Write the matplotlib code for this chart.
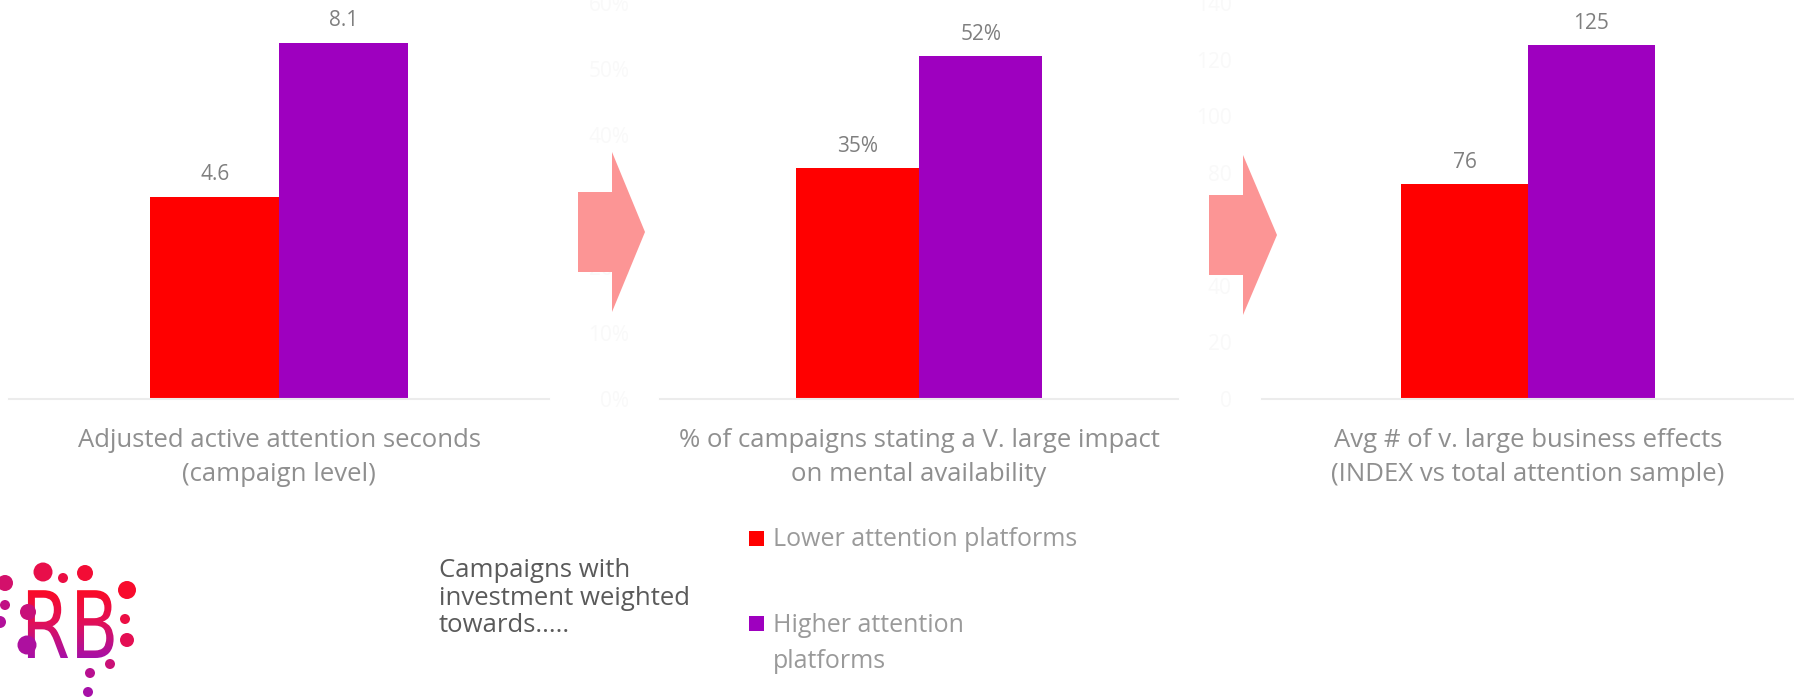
import numpy as np
import matplotlib
matplotlib.use("Agg")
import matplotlib.pyplot as plt
from matplotlib.patches import Polygon, Rectangle, Circle, PathPatch
from matplotlib.textpath import TextPath
from matplotlib.font_manager import FontProperties
from matplotlib.transforms import Affine2D
from matplotlib.colors import LinearSegmentedColormap

plt.rcParams["font.family"] = ["Open Sans", "DejaVu Sans"]

W, H = 1794, 698
RED, PURPLE = "#ff0000", "#9e00bf"

# ---- data ----
series = ["Lower attention platforms", "Higher attention\nplatforms"]
titles = ["Adjusted active attention seconds\n(campaign level)",
          "% of campaigns stating a V. large impact\non mental availability",
          "Avg # of v. large business effects\n(INDEX vs total attention sample)"]
lower = [4.6, 0.35, 76]
higher = [8.1, 0.52, 125]
value_fmt = ["{:.1f}", "{:.0%}", "{:.0f}"]
ylims = [(0, 9), (0, 0.6), (0, 140)]
yticks = [[], np.arange(0, 0.61, 0.1), np.arange(0, 141, 20)]
ytick_fmt = [None, "{:.0%}", "{:.0f}"]

# panel extents in pixels (left, right)
panels = [(9, 549), (660, 1178), (1262, 1794)]
ax_bottom, ax_top = 399, 3

fig = plt.figure(figsize=(W / 100, H / 100), dpi=100)

def px_axes(x0, x1, y_top, y_bot):
    return fig.add_axes([x0 / W, 1 - y_bot / H, (x1 - x0) / W, (y_bot - y_top) / H])

w = 0.238
for i, (x0, x1) in enumerate(panels):
    ax = px_axes(x0, x1, ax_top, ax_bottom)
    ax.set_facecolor("none")
    b1 = ax.bar(-w / 2, lower[i], w, color=RED, zorder=2)
    b2 = ax.bar(w / 2, higher[i], w, color=PURPLE, zorder=2)
    for bars, v in ((b1, lower[i]), (b2, higher[i])):
        r = bars[0]
        ax.annotate(value_fmt[i].format(v), (r.get_x() + r.get_width() / 2, v),
                    xytext=(0, 8), textcoords="offset points", ha="center",
                    va="bottom", fontsize=15, color="#7f7f7f")
    ax.set_xlim(-0.5, 0.5)
    ax.set_ylim(*ylims[i])
    for s in ("top", "right", "left"):
        ax.spines[s].set_visible(False)
    ax.spines["bottom"].set_color("#ececec")
    ax.spines["bottom"].set_linewidth(1.5)
    ax.set_xticks([])
    ax.set_yticks(yticks[i])
    if ytick_fmt[i]:
        ax.set_yticklabels([ytick_fmt[i].format(t) for t in yticks[i]])
    ax.tick_params(axis="y", length=0, pad=22, labelsize=15, labelcolor="#f9f9f9")
    ax.set_xlabel(titles[i], fontsize=18.5, color="#8f8f8f", labelpad=21, linespacing=1.45)

# overlay in pixel coordinates for arrows, legend and logo
ov = fig.add_axes([0, 0, 1, 1])
ov.set_xlim(0, W)
ov.set_ylim(H, 0)
ov.axis("off")

arrow_col = "#fc9595"
for (bx0, bx1, tip, cy) in [(578, 612, 645, 232), (1209, 1243, 1277, 235)]:
    pts = [(bx0, cy - 40), (bx1, cy - 40), (bx1, cy - 80), (tip, cy),
           (bx1, cy + 80), (bx1, cy + 40), (bx0, cy + 40)]
    ov.add_patch(Polygon(pts, closed=True, fc=arrow_col, ec="none"))

ov.text(439, 558, "Campaigns with\ninvestment weighted\ntowards.....", fontsize=18.5,
        color="#5a5a5a", va="top", ha="left", linespacing=1.14)

# legend
ov.add_patch(Rectangle((749, 531), 15, 15, fc=RED, ec="none"))
ov.text(773, 539, series[0], fontsize=18, color="#9a9a9a", va="center", ha="left")
ov.add_patch(Rectangle((749, 616), 15, 15, fc=PURPLE, ec="none"))
ov.text(773, 613, series[1], fontsize=18, color="#9a9a9a", va="top", ha="left",
        linespacing=1.6)

# logo
cmap = LinearSegmentedColormap.from_list("rb", ["#ff0a1e", "#e0105a", "#a010b0"])
def logo_col(x, y):
    t = np.clip(((125 - x) * 0.6 + (y - 570) * 0.9) / 140, 0, 1)
    return cmap(t)

dots = [(43, 572, 9.5), (63, 578, 5), (85, 573, 8), (127, 590, 9), (5, 583, 8),
        (5, 605, 5), (28, 612, 8), (125, 619, 5), (0, 622, 6), (27, 645, 9.5),
        (127, 640, 7), (110, 664, 5), (90, 673, 5), (88, 692, 5)]
for x, y, r in dots:
    ov.add_patch(Circle((x, y), r, fc=logo_col(x, y), ec="none"))

fp = FontProperties(family="DejaVu Sans")
tp = TextPath((0, 0), "RB", size=93, prop=fp)
tr = Affine2D().scale(0.76, -1.0).translate(21, 658) + ov.transData
patch = PathPatch(tp, transform=tr, fc="none", ec="none")
ov.add_patch(patch)
grad = np.linspace(0, 1, 100).reshape(-1, 1)
im = ov.imshow(grad, cmap=cmap, extent=(10, 130, 662, 585), aspect="auto",
               origin="upper", interpolation="bilinear")
im.set_clip_path(patch)
ov.set_xlim(0, W)
ov.set_ylim(H, 0)

fig.savefig("out.png", dpi=100)
